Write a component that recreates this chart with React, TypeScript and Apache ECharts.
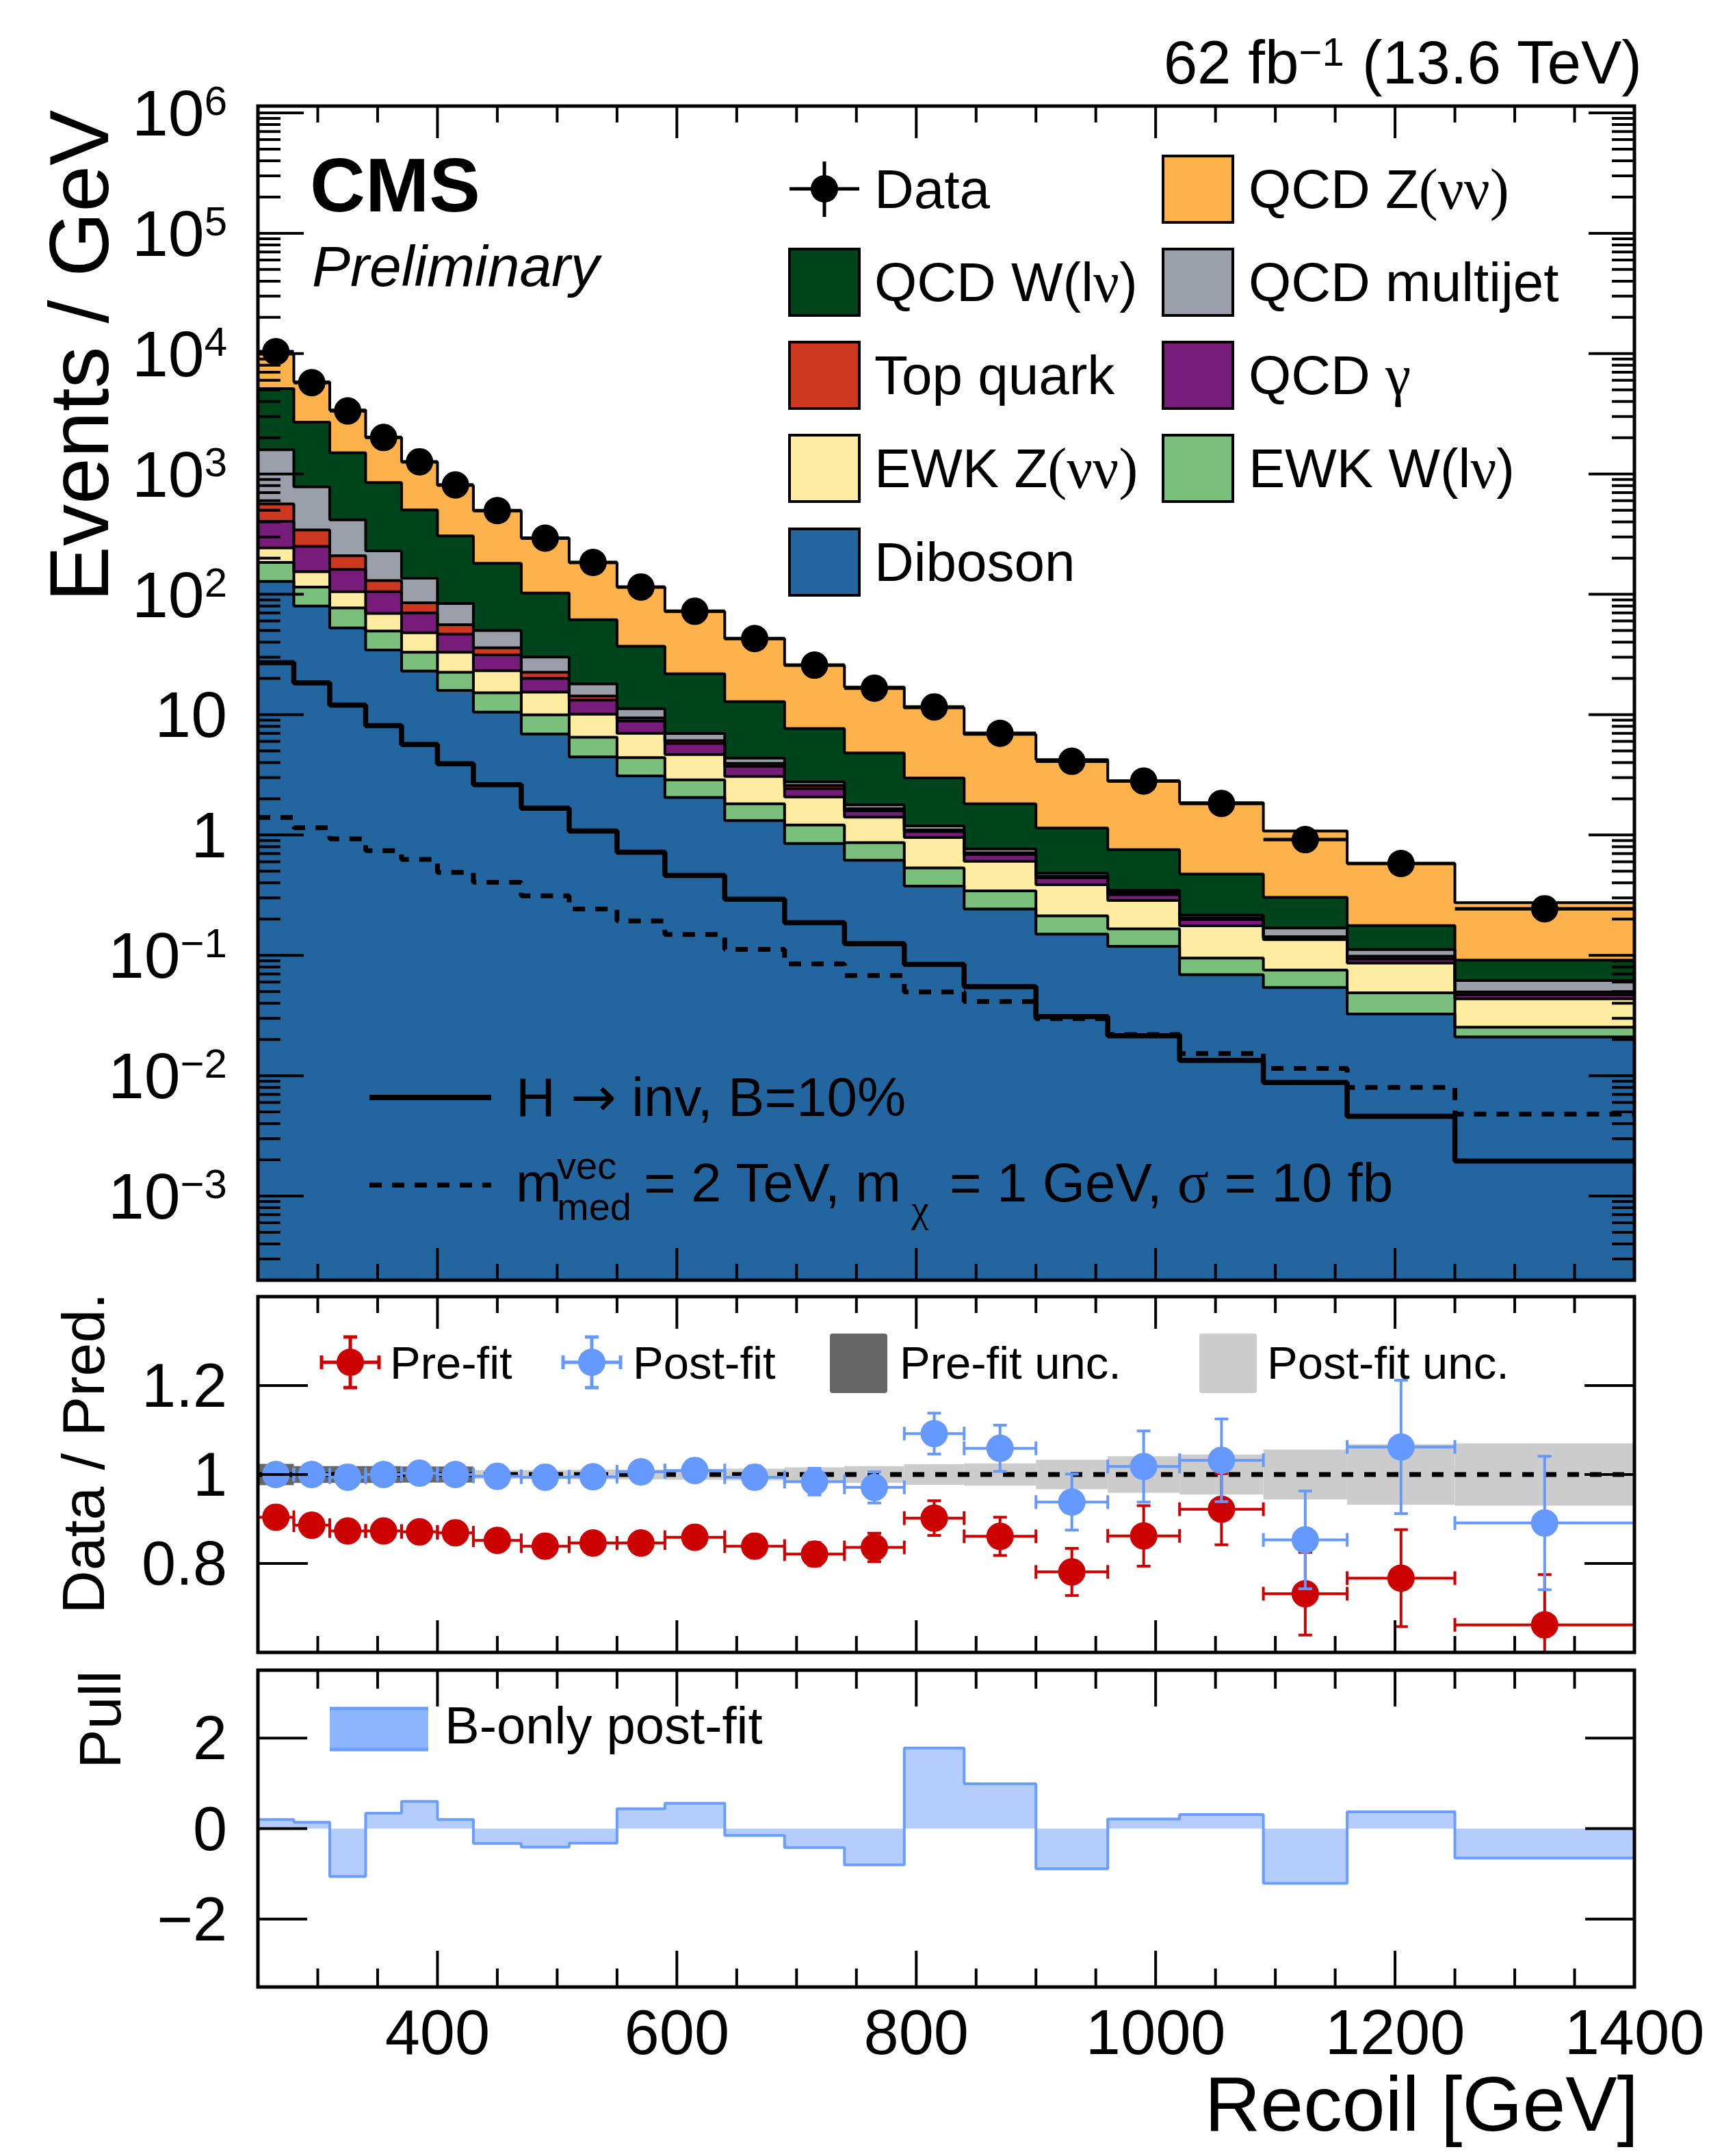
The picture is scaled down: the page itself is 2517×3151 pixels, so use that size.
import { useEffect, useRef } from 'react';
import * as echarts from 'echarts';

// Recoil binning, GeV
const binEdges = [250, 280, 310, 340, 370, 400, 430, 470, 510, 550, 590, 640, 690, 740, 790, 840, 900, 960, 1020, 1090, 1160, 1250, 1400];

// Events / GeV
const dataEvents = [10380, 5740, 3340, 2010, 1262, 810, 496, 293, 184, 115, 72.3, 42.9, 25.8, 16.6, 11.6, 7.0, 4.1, 2.81, 1.83, 0.916, 0.58, 0.244];

// background components (bottom of the stack first)
const diboson = [128, 80, 52.5, 34.5, 23, 15.9, 10.5, 6.9, 4.45, 3.1, 2.05, 1.32, 0.85, 0.617, 0.376, 0.243, 0.15, 0.119, 0.069, 0.054, 0.0326, 0.021];
const ewkWlv = [56, 35, 24.5, 15, 10, 6.6, 4.7, 3.06, 2.05, 1.3, 0.82, 0.5, 0.36, 0.248, 0.157, 0.101, 0.063, 0.047, 0.026, 0.0215, 0.0162, 0.0043];
const ewkZvv = [59, 39, 28, 20, 15, 10.5, 8.0, 5.44, 3.6, 2.6, 1.8, 1.25, 0.86, 0.545, 0.422, 0.261, 0.174, 0.12, 0.081, 0.0595, 0.0375, 0.0183];
const qcdGamma = [161, 96, 56, 35.5, 22, 13.7, 8.2, 4.6, 3.1, 1.85, 1.1, 0.65, 0.36, 0.18, 0.115, 0.085, 0.053, 0.034, 0.022, 0.005, 0.007, 0.0035];
const topQuark = [160, 93, 48, 25, 15, 9.3, 4.5, 2.5, 1.1, 0.55, 0.3, 0.22, 0.15, 0.06, 0.03, 0.02, 0.015, 0.01, 0.007, 0.003, 0.005, 0.0025];
const qcdMultijet = [1028, 439, 207, 100, 51, 28, 14.1, 7.6, 3.7, 1.8, 0.9, 0.41, 0.18, 0.13, 0.09, 0.056, 0.028, 0.018, 0.011, 0.026, 0.0134, 0.0122];
const qcdWlv = [3528, 1908, 1084, 618, 366, 222, 131, 72.4, 43.4, 25.8, 14.9, 8.45, 4.9, 3.03, 1.79, 1.054, 0.657, 0.409, 0.258, 0.134, 0.065, 0.0296];
const qcdZvv = [4780, 3130, 1900, 1162, 760, 500, 315, 190.5, 122.6, 78, 50.4, 30.1, 18.1, 12.1, 8.42, 5.04, 3.09, 2.05, 1.38, 0.777, 0.403, 0.183];

// signal hypotheses
const hinvSignal = [27, 18.4, 12.0, 8.1, 5.65, 3.91, 2.62, 1.67, 1.08, 0.72, 0.461, 0.293, 0.187, 0.125, 0.084, 0.055, 0.031, 0.0215, 0.0134, 0.0088, 0.0046, 0.00196];
const vecMedSignal = [1.4, 1.15, 0.93, 0.74, 0.627, 0.489, 0.405, 0.312, 0.243, 0.193, 0.149, 0.112, 0.085, 0.068, 0.0497, 0.0413, 0.0298, 0.022, 0.0153, 0.0115, 0.008, 0.0048];

// data / prediction
const prefitRatio = [0.904, 0.886, 0.873, 0.873, 0.871, 0.869, 0.852, 0.839, 0.846, 0.846, 0.859, 0.839, 0.821, 0.836, 0.902, 0.861, 0.781, 0.862, 0.922, 0.732, 0.767, 0.662];
const prefitErr = [0.004, 0.005, 0.006, 0.007, 0.008, 0.009, 0.01, 0.012, 0.014, 0.016, 0.018, 0.022, 0.026, 0.032, 0.039, 0.043, 0.053, 0.068, 0.08, 0.093, 0.109, 0.113];
const postfitRatio = [1.0, 1.0, 0.994, 1.0, 1.003, 1.0, 0.996, 0.994, 0.995, 1.006, 1.009, 0.994, 0.984, 0.971, 1.092, 1.059, 0.938, 1.018, 1.032, 0.853, 1.062, 0.891];
const postfitErr = [0.005, 0.006, 0.007, 0.008, 0.009, 0.01, 0.012, 0.014, 0.016, 0.018, 0.021, 0.025, 0.03, 0.035, 0.046, 0.052, 0.063, 0.08, 0.093, 0.11, 0.15, 0.15];
const prefitUnc = [0.024, 0.019, 0.019, 0.019, 0.018, 0.018, 0, 0, 0, 0, 0, 0, 0, 0, 0, 0, 0, 0, 0, 0, 0, 0];
const postfitUnc = [0.008, 0.008, 0.008, 0.008, 0.008, 0.008, 0.01, 0.01, 0.011, 0.011, 0.012, 0.013, 0.016, 0.019, 0.023, 0.025, 0.033, 0.041, 0.045, 0.056, 0.068, 0.07];

// B-only post-fit pulls
const pulls = [0.2, 0.14, -1.06, 0.34, 0.6, 0.2, -0.33, -0.41, -0.32, 0.44, 0.56, -0.15, -0.42, -0.8, 1.78, 0.99, -0.89, 0.21, 0.31, -1.21, 0.37, -0.65];

// ticks
const xMajorTicks = [400, 600, 800, 1000, 1200];
const xMinorTicks = [300, 350, 450, 500, 550, 650, 700, 750, 850, 900, 950, 1050, 1100, 1150, 1250, 1300, 1350];
const logMajorTicks = [1e-3, 1e-2, 1e-1, 1, 10, 100, 1e3, 1e4, 1e5, 1e6];
const ratioTicks = [0.8, 1, 1.2];
const pullTicks = [-2, 0, 2];

const FONT = 'Liberation Sans';
const SERIF = 'Liberation Serif';
const Y_MIN = 2e-4;
const Y_MAX = 1.14e6;

const COLORS = {
  diboson: '#23659f',
  ewkW: '#7bbf7c',
  ewkZ: '#feeda0',
  gamma: '#781c7b',
  top: '#ce3720',
  multijet: '#9a9fa9',
  qcdW: '#00441b',
  qcdZ: '#fdb24c',
  pre: '#cc0000',
  post: '#6699ff',
};

const layers = [
  { values: diboson, color: COLORS.diboson },
  { values: ewkWlv, color: COLORS.ewkW },
  { values: ewkZvv, color: COLORS.ewkZ },
  { values: qcdGamma, color: COLORS.gamma },
  { values: topQuark, color: COLORS.top },
  { values: qcdMultijet, color: COLORS.multijet },
  { values: qcdWlv, color: COLORS.qcdW },
  { values: qcdZvv, color: COLORS.qcdZ },
];

const logMinorTicks: number[] = [];
for (let d = -4; d <= 6; d++) {
  for (let k = 2; k <= 9; k++) {
    const v = k * Math.pow(10, d);
    if (v > Y_MIN && v < Y_MAX) logMinorTicks.push(v);
  }
}

function stepPoints(vals: number[]) {
  return binEdges.map((e, i) => [e, vals[Math.min(i, vals.length - 1)]]);
}

function binRows(vals: number[], errs?: number[]) {
  return vals.map((v, i) => [binEdges[i], binEdges[i + 1], v, errs ? errs[i] : 0]);
}

function frameRenderer(o: any) {
  return (params: any, api: any) => {
    const cs = params.coordSys;
    const L = cs.x, T = cs.y, R = cs.x + cs.width, B = cs.y + cs.height;
    const kids: any[] = [];
    const seg = (x1: number, y1: number, x2: number, y2: number) =>
      kids.push({ type: 'line', shape: { x1, y1, x2, y2 }, style: { stroke: '#000', lineWidth: 4 } });
    const xs = (v: number) => api.coord([v, o.yRef])[0];
    const ys = (v: number) => api.coord([400, v])[1];
    o.xMajor.forEach((v: number) => { const x = xs(v); seg(x, B, x, B - o.xMaj); seg(x, T, x, T + o.xMaj); });
    o.xMinor.forEach((v: number) => { const x = xs(v); seg(x, B, x, B - o.xMin); seg(x, T, x, T + o.xMin); });
    o.yMajor.forEach((v: number) => { const y = ys(v); seg(L, y, L + o.yMaj, y); seg(R, y, R - o.yMaj, y); });
    o.yMinor.forEach((v: number) => { const y = ys(v); seg(L, y, L + o.yMin, y); seg(R, y, R - o.yMin, y); });
    kids.push({ type: 'rect', shape: { x: L, y: T, width: R - L, height: B - T }, style: { fill: 'none', stroke: '#000', lineWidth: 5 } });
    return { type: 'group', children: kids };
  };
}

function errorBarRenderer(color: string, lw: number, cap: number) {
  return (params: any, api: any) => {
    const lo = api.value(0), hi = api.value(1), y = api.value(2), e = api.value(3);
    const xc = (lo + hi) / 2;
    const a = api.coord([lo, y]);
    const b = api.coord([hi, y]);
    const kids: any[] = [];
    const st = { stroke: color, lineWidth: lw };
    kids.push({ type: 'line', shape: { x1: a[0], y1: a[1], x2: b[0], y2: b[1] }, style: st });
    if (cap > 0) {
      kids.push({ type: 'line', shape: { x1: a[0], y1: a[1] - cap, x2: a[0], y2: a[1] + cap }, style: st });
      kids.push({ type: 'line', shape: { x1: b[0], y1: b[1] - cap, x2: b[0], y2: b[1] + cap }, style: st });
    }
    if (e > 0) {
      const t = api.coord([xc, y + e]);
      const d = api.coord([xc, y - e]);
      kids.push({ type: 'line', shape: { x1: t[0], y1: t[1], x2: d[0], y2: d[1] }, style: st });
      if (cap > 0) {
        kids.push({ type: 'line', shape: { x1: t[0] - cap, y1: t[1], x2: t[0] + cap, y2: t[1] }, style: st });
        kids.push({ type: 'line', shape: { x1: d[0] - cap, y1: d[1], x2: d[0] + cap, y2: d[1] }, style: st });
      }
    }
    return { type: 'group', children: kids };
  };
}

function bandRenderer(color: string) {
  return (params: any, api: any) => {
    const u = api.value(2);
    if (!u) return null;
    const p0 = api.coord([api.value(0), 1 + u]);
    const p1 = api.coord([api.value(1), 1 - u]);
    return { type: 'rect', shape: { x: p0[0], y: p0[1], width: p1[0] - p0[0], height: p1[1] - p0[1] }, style: { fill: color } };
  };
}

function txt(x: number, y: number, text: string, size: number, extra: any = {}, el: any = {}) {
  return {
    type: 'text', x, y, z: 100, ...el,
    style: { text, fontSize: size, fontFamily: FONT, fill: '#000', align: 'left', verticalAlign: 'middle', ...extra },
  };
}

function box(x: number, cy: number, color: string) {
  return { type: 'rect', z: 100, shape: { x, y: cy - 48, width: 102, height: 97 }, style: { fill: color, stroke: '#000', lineWidth: 4 } };
}

function seg(x1: number, y1: number, x2: number, y2: number, stroke: string, lineWidth: number, extra: any = {}) {
  return { type: 'line', z: 100, shape: { x1, y1, x2, y2 }, style: { stroke, lineWidth, ...extra } };
}

function pointMarker(cx: number, cy: number, color: string, caps: boolean) {
  const items: any[] = [
    seg(cx - 42, cy, cx + 42, cy, color, 5),
    seg(cx, cy - 37, cx, cy + 37, color, 5),
    { type: 'circle', z: 101, shape: { cx, cy, r: 20 }, style: { fill: color } },
  ];
  if (caps) {
    items.push(seg(cx - 42, cy - 10, cx - 42, cy + 10, color, 5));
    items.push(seg(cx + 42, cy - 10, cx + 42, cy + 10, color, 5));
    items.push(seg(cx - 10, cy - 37, cx + 10, cy - 37, color, 5));
    items.push(seg(cx - 10, cy + 37, cx + 10, cy + 37, color, 5));
  }
  return items;
}

export default function App() {
  const chartRef = useRef<HTMLDivElement>(null);

  useEffect(() => {
    if (!chartRef.current) return;
    const chart = echarts.init(chartRef.current, undefined, { renderer: 'svg' });

    const cumulative: number[][] = [];
    layers.forEach((l, k) => {
      cumulative.push(l.values.map((v, i) => v + (k ? cumulative[k - 1][i] : 0)));
    });
    const binCenters = dataEvents.map((_, i) => (binEdges[i] + binEdges[i + 1]) / 2);

    const stackSeries = layers
      .map((l, k) => ({
        type: 'line',
        xAxisIndex: 0,
        yAxisIndex: 0,
        step: 'end',
        symbol: 'none',
        silent: true,
        z: 3,
        data: stepPoints(cumulative[k]),
        lineStyle: { color: '#000', width: 4 },
        areaStyle: { color: l.color, opacity: 1, origin: 'start' },
      }))
      .reverse();

    const logLabel = (value: number) => {
      const lg = Math.log10(value);
      const e = Math.round(lg);
      if (Math.abs(lg - e) > 0.01) return '';
      if (e === 0) return '{b|1}';
      if (e === 1) return '{b|10}';
      return '{b|10}{s|' + (e < 0 ? '\u2212' : '') + Math.abs(e) + '}';
    };

    const option: any = {
      animation: false,
      backgroundColor: '#ffffff',
      grid: [
        { left: 377, top: 155, width: 2012, height: 1716 },
        { left: 377, top: 1895, width: 2012, height: 520 },
        { left: 377, top: 2441, width: 2012, height: 463 },
      ],
      xAxis: [0, 1, 2].map((i) => ({
        type: 'value',
        gridIndex: i,
        min: 250,
        max: 1400,
        axisLine: { show: false },
        axisTick: { show: false },
        splitLine: { show: false },
        axisLabel:
          i === 2
            ? {
                show: true,
                fontSize: 92,
                lineHeight: 80,
                fontFamily: FONT,
                color: '#000',
                margin: 66,
                verticalAlign: 'middle',
                formatter: (v: number) => (v === 250 ? '' : String(v)),
              }
            : { show: false },
      })),
      yAxis: [
        {
          type: 'log',
          logBase: 10,
          gridIndex: 0,
          min: Y_MIN,
          max: Y_MAX,
          splitNumber: 10,
          axisLine: { show: false },
          axisTick: { show: false },
          splitLine: { show: false },
          axisLabel: {
            margin: 45,
            color: '#000',
            formatter: logLabel,
            rich: {
              b: { fontSize: 95, fontFamily: FONT, lineHeight: 95, color: '#000' },
              s: { fontSize: 60, fontFamily: FONT, lineHeight: 26, verticalAlign: 'top', color: '#000' },
            },
          },
        },
        {
          type: 'value',
          gridIndex: 1,
          min: 0.6,
          max: 1.4,
          interval: 0.2,
          axisLine: { show: false },
          axisTick: { show: false },
          splitLine: { show: false },
          axisLabel: {
            margin: 45,
            color: '#000',
            fontSize: 90,
            fontFamily: FONT,
            formatter: (v: number) =>
              Math.abs(v - 1.2) < 1e-6 ? '1.2' : Math.abs(v - 1) < 1e-6 ? '1' : Math.abs(v - 0.8) < 1e-6 ? '0.8' : '',
          },
        },
        {
          type: 'value',
          gridIndex: 2,
          min: -3.5,
          max: 3.5,
          axisLine: { show: false },
          axisTick: { show: false },
          splitLine: { show: false },
          axisLabel: {
            margin: 45,
            color: '#000',
            fontSize: 90,
            fontFamily: FONT,
            formatter: (v: number) =>
              Math.abs(v - 2) < 1e-6 ? '2' : Math.abs(v) < 1e-6 ? '0' : Math.abs(v + 2) < 1e-6 ? '\u22122' : '',
          },
        },
      ],
      series: [
        ...stackSeries,
        {
          type: 'line',
          xAxisIndex: 0,
          yAxisIndex: 0,
          step: 'end',
          symbol: 'none',
          silent: true,
          z: 3,
          data: stepPoints(hinvSignal),
          lineStyle: { color: '#000', width: 7.5 },
        },
        {
          type: 'line',
          xAxisIndex: 0,
          yAxisIndex: 0,
          step: 'end',
          symbol: 'none',
          silent: true,
          z: 3,
          data: stepPoints(vecMedSignal),
          lineStyle: { color: '#000', width: 7, type: [18, 15] },
        },
        {
          type: 'custom',
          xAxisIndex: 0,
          yAxisIndex: 0,
          silent: true,
          z: 5,
          data: binRows(dataEvents),
          encode: { x: [0, 1], y: 2 },
          renderItem: errorBarRenderer('#000', 5, 0),
        },
        {
          type: 'scatter',
          xAxisIndex: 0,
          yAxisIndex: 0,
          silent: true,
          z: 6,
          symbol: 'circle',
          symbolSize: 40,
          itemStyle: { color: '#000', opacity: 1 },
          data: dataEvents.map((v, i) => [binCenters[i], v]),
        },
        {
          type: 'custom',
          xAxisIndex: 0,
          yAxisIndex: 0,
          silent: true,
          z: 10,
          data: [[300, 1]],
          renderItem: frameRenderer({
            xMajor: xMajorTicks, xMinor: xMinorTicks, yMajor: logMajorTicks, yMinor: logMinorTicks,
            yRef: 1, xMaj: 47, xMin: 24, yMaj: 67, yMin: 33,
          }),
        },
        // ratio panel
        {
          type: 'custom',
          xAxisIndex: 1,
          yAxisIndex: 1,
          silent: true,
          z: 2,
          data: binRows(postfitUnc),
          encode: { x: [0, 1], y: 2 },
          renderItem: bandRenderer('#cccccc'),
        },
        {
          type: 'custom',
          xAxisIndex: 1,
          yAxisIndex: 1,
          silent: true,
          z: 2,
          data: binRows(prefitUnc),
          encode: { x: [0, 1], y: 2 },
          renderItem: bandRenderer('#666666'),
        },
        {
          type: 'line',
          xAxisIndex: 1,
          yAxisIndex: 1,
          symbol: 'none',
          silent: true,
          z: 3,
          data: [[250, 1], [1400, 1]],
          lineStyle: { color: '#000', width: 7, type: [17, 16] },
        },
        {
          type: 'custom',
          xAxisIndex: 1,
          yAxisIndex: 1,
          silent: true,
          clip: true,
          z: 4,
          data: binRows(prefitRatio, prefitErr),
          encode: { x: [0, 1], y: 2 },
          renderItem: errorBarRenderer(COLORS.pre, 4, 10),
        },
        {
          type: 'scatter',
          xAxisIndex: 1,
          yAxisIndex: 1,
          silent: true,
          z: 5,
          symbolSize: 40,
          itemStyle: { color: COLORS.pre, opacity: 1 },
          data: prefitRatio.map((v, i) => [binCenters[i], v]),
        },
        {
          type: 'custom',
          xAxisIndex: 1,
          yAxisIndex: 1,
          silent: true,
          clip: true,
          z: 6,
          data: binRows(postfitRatio, postfitErr),
          encode: { x: [0, 1], y: 2 },
          renderItem: errorBarRenderer(COLORS.post, 4, 10),
        },
        {
          type: 'scatter',
          xAxisIndex: 1,
          yAxisIndex: 1,
          silent: true,
          z: 7,
          symbolSize: 40,
          itemStyle: { color: COLORS.post, opacity: 1 },
          data: postfitRatio.map((v, i) => [binCenters[i], v]),
        },
        {
          type: 'custom',
          xAxisIndex: 1,
          yAxisIndex: 1,
          silent: true,
          z: 10,
          data: [[300, 1]],
          renderItem: frameRenderer({
            xMajor: xMajorTicks, xMinor: xMinorTicks, yMajor: ratioTicks, yMinor: [],
            yRef: 1, xMaj: 47, xMin: 24, yMaj: 73, yMin: 0,
          }),
        },
        // pull panel
        {
          type: 'line',
          xAxisIndex: 2,
          yAxisIndex: 2,
          step: 'end',
          symbol: 'none',
          silent: true,
          z: 3,
          data: stepPoints(pulls),
          lineStyle: { color: '#6b9cff', width: 4 },
          areaStyle: { color: '#b4cdfc', opacity: 1, origin: 'auto' },
        },
        {
          type: 'custom',
          xAxisIndex: 2,
          yAxisIndex: 2,
          silent: true,
          z: 10,
          data: [[300, 0]],
          renderItem: frameRenderer({
            xMajor: xMajorTicks, xMinor: xMinorTicks, yMajor: pullTicks, yMinor: [],
            yRef: 0, xMaj: 53, xMin: 27, yMaj: 72, yMin: 0,
          }),
        },
      ],
      graphic: [
        // titles
        txt(2400, 91, '62 fb{s|\u22121} (13.6 TeV)', 89, {
          align: 'right',
          lineHeight: 89,
          rich: { s: { fontSize: 58, fontFamily: FONT, lineHeight: 30, verticalAlign: 'top' } },
        }),
        txt(453, 270, 'CMS', 112, { fontWeight: 'bold' }),
        txt(456, 389, 'Preliminary', 84, { fontStyle: 'italic' }),
        txt(116, 520, 'Events / GeV', 122, { align: 'center' }, { rotation: Math.PI / 2 }),
        txt(121, 2124, 'Data / Pred.', 88, { align: 'center' }, { rotation: Math.PI / 2 }),
        txt(146, 2513, 'Pull', 86, { align: 'center' }, { rotation: Math.PI / 2 }),
        txt(2395, 3075, 'Recoil [GeV]', 113, { align: 'right', lineHeight: 96 }),
        // main legend
        seg(1154, 276, 1256, 276, '#000', 5),
        seg(1205, 236, 1205, 317, '#000', 5),
        { type: 'circle', z: 101, shape: { cx: 1205, cy: 276, r: 20 }, style: { fill: '#000' } },
        txt(1278, 276, 'Data', 80),
        box(1700, 276, COLORS.qcdZ),
        txt(1825, 276, 'QCD Z{g|(\u03bd\u03bd)}', 80, { rich: { g: { fontFamily: SERIF, fontSize: 84 } } }),
        box(1154, 412, COLORS.qcdW),
        txt(1278, 412, 'QCD W(l{g|\u03bd})', 80, { rich: { g: { fontFamily: SERIF, fontSize: 84 } } }),
        box(1700, 412, COLORS.multijet),
        txt(1825, 412, 'QCD multijet', 80),
        box(1154, 548, COLORS.top),
        txt(1278, 548, 'Top quark', 80),
        box(1700, 548, COLORS.gamma),
        txt(1825, 548, 'QCD {g|\u03b3}', 80, { rich: { g: { fontFamily: SERIF, fontSize: 84 } } }),
        box(1154, 684, COLORS.ewkZ),
        txt(1278, 684, 'EWK Z{g|(\u03bd\u03bd)}', 80, { rich: { g: { fontFamily: SERIF, fontSize: 84 } } }),
        box(1700, 684, COLORS.ewkW),
        txt(1825, 684, 'EWK W(l{g|\u03bd})', 80, { rich: { g: { fontFamily: SERIF, fontSize: 84 } } }),
        box(1154, 821, COLORS.diboson),
        txt(1278, 821, 'Diboson', 80),
        // signal legend
        seg(540, 1604, 718, 1604, '#000', 8),
        txt(754, 1603, 'H {a|\u2192} inv, B=10%', 80, { rich: { a: { fontFamily: 'DejaVu Sans', fontSize: 80 } } }),
        seg(540, 1732, 718, 1732, '#000', 7, { lineDash: [18, 15] }),
        txt(754, 1728, 'm', 80),
        txt(814, 1703, 'vec', 56),
        txt(814, 1763, 'med', 56),
        txt(941, 1728, '= 2 TeV, m', 80),
        txt(1332, 1766, '\u03c7', 58, { fontFamily: SERIF }),
        txt(1388, 1728, '= 1 GeV, {g|\u03c3} = 10 fb', 80, { rich: { g: { fontFamily: SERIF, fontSize: 86 } } }),
        // ratio legend
        ...pointMarker(512, 1991, COLORS.pre, true),
        txt(570, 1991, 'Pre-fit', 67),
        ...pointMarker(865, 1991, COLORS.post, true),
        txt(925, 1991, 'Post-fit', 67),
        { type: 'rect', z: 100, shape: { x: 1213, y: 1949, width: 84, height: 87, r: 4 }, style: { fill: '#666666' } },
        txt(1315, 1991, 'Pre-fit unc.', 67),
        { type: 'rect', z: 100, shape: { x: 1753, y: 1949, width: 84, height: 87, r: 4 }, style: { fill: '#cccccc' } },
        txt(1852, 1991, 'Post-fit unc.', 67),
        // pull legend
        { type: 'rect', z: 100, shape: { x: 482, y: 2495, width: 144, height: 64 }, style: { fill: '#8db4fe' } },
        seg(482, 2497, 626, 2497, '#6b9cff', 5),
        seg(482, 2557, 626, 2557, '#6b9cff', 5),
        txt(650, 2521, 'B-only post-fit', 76),
      ],
    };

    chart.setOption(option);

    return () => {
      chart.dispose();
    };
  }, []);

  return (
    <div
      ref={chartRef}
      style={{ position: 'absolute', left: 0, top: 0, width: 2517, height: 3151, background: '#fff' }}
    />
  );
}
